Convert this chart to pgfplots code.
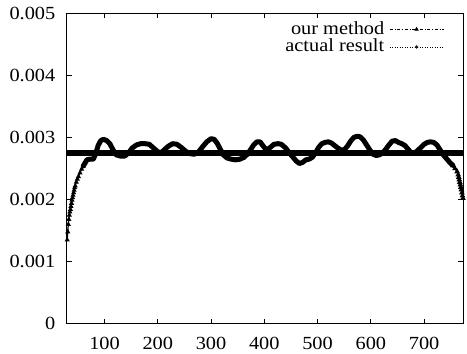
\documentclass[border=0pt]{standalone}
\usepackage{fontspec}
\setmainfont{Liberation Serif}[FakeStretch=1.1]
\usepackage{pgfplots}
\pgfplotsset{compat=1.18}
\begin{document}
\fontsize{18.5}{20}\selectfont
\begin{tikzpicture}
\begin{axis}[
  scale only axis,
  width=396.3pt, height=310.4pt,
  xmin=29, xmax=773, ymin=0, ymax=0.005,
  scaled y ticks=false, scaled x ticks=false,
  axis line style={line width=0.9pt},
  every tick/.style={black, line width=0.8pt},
  major tick length=5pt,
  tick align=inside, tick pos=both,
  xtick={100,200,300,400,500,600,700},
  xticklabels={100,200,300,400,500,600,700},
  ytick={0,0.001,0.002,0.003,0.004,0.005},
  yticklabels={0,0.001,0.002,0.003,0.004,0.005},
  ticklabel style={font=\fontsize{18.5}{20}\selectfont},
  yticklabel style={xshift=-5pt},
  xticklabel style={yshift=-7pt},
  legend plot pos=right,
  legend cell align=right,
  legend style={draw=none, fill=none, at={(axis description cs:1,1)}, anchor=north east,
    xshift=-19pt, yshift=-7pt, inner sep=0pt, row sep=0pt, column sep=4pt,
    nodes={inner sep=1pt, font=\fontsize{18.5}{20}\selectfont}},
  legend image code/.code={
    \draw[mark repeat=2, mark phase=2, #1] plot coordinates {(0pt,0pt) (27pt,0pt) (54pt,0pt)};
  },
]
% actual result (dense marks -> thick line)
\addplot[black, line width=6.5pt, forget plot] coordinates {(29,0.00275) (773,0.00275)};
% our method, rising part with visible marks
\addplot[black, line width=1.2pt, mark=triangle*, mark size=1.8pt, forget plot] coordinates {
(30,0.00135) (31,0.00148) (32,0.0016) (33,0.00168) (34,0.00175) (35,0.0018) (36,0.00184)
(37,0.00189) (38,0.00194) (39,0.00199) (40,0.00203) (41,0.00207) (42,0.00211) (43,0.00215)
(44,0.00219) (45,0.00222) (47,0.00228) (49,0.00233) (51,0.00237) (54,0.00243) (57,0.00249)
(60,0.00254) (63,0.00258) (67,0.00263)
};
% our method, main part
\addplot[black, line width=5pt, line join=round, line cap=round, forget plot] coordinates {
(60,0.00254) (67,0.00264) (72,0.00265) (79,0.00265) (84,0.00275) (88,0.00287) (93,0.00295)
(98,0.00297) (104,0.00295) (110,0.0029) (116,0.0028) (122,0.00272) (130,0.0027) (138,0.0027)
(145,0.00275) (152,0.00283) (160,0.00288) (168,0.0029) (176,0.0029) (184,0.00289) (192,0.00283)
(200,0.00277) (206,0.00275) (212,0.0028) (220,0.00286) (228,0.0029) (236,0.00289) (244,0.00284)
(252,0.00278) (260,0.00274) (268,0.00273) (276,0.00276) (284,0.00285) (292,0.00293) (300,0.00298)
(306,0.00297) (312,0.0029) (318,0.0028) (323,0.00272) (330,0.00267) (338,0.00265) (346,0.00264)
(354,0.00265) (362,0.00268) (368,0.00273) (374,0.0028) (380,0.00288) (386,0.00293) (392,0.00293)
(398,0.00286) (404,0.0028) (410,0.00283) (418,0.00289) (426,0.0029) (432,0.00289) (440,0.00283)
(448,0.00274) (454,0.00268) (460,0.00262) (466,0.00258) (472,0.0026) (478,0.00264) (484,0.00265)
(490,0.00268) (496,0.00275) (502,0.00284) (508,0.0029) (514,0.00292) (520,0.00293) (526,0.00291)
(532,0.00287) (538,0.00283) (544,0.0028) (550,0.0028) (556,0.00286) (562,0.00294) (568,0.003)
(574,0.00302) (580,0.00301) (586,0.00296) (592,0.00288) (598,0.0028) (604,0.00273) (610,0.00271)
(616,0.00272) (622,0.00275) (628,0.00281) (634,0.00288) (640,0.00294) (646,0.00295) (652,0.00292)
(658,0.0029) (664,0.00287) (670,0.00281) (676,0.00275) (682,0.00275) (688,0.00279) (694,0.00284)
(700,0.00289) (706,0.00292) (712,0.00293) (718,0.00292) (724,0.00288) (730,0.0028) (736,0.00272)
(742,0.00266) (748,0.0026) (754,0.00255)
};
\addplot[black, line width=1.5pt, mark=triangle*, mark size=1.8pt, forget plot] coordinates {
(754,0.00255) (758,0.0025) (762,0.00245) (764,0.0024) (765,0.00236) (766,0.00232) (767,0.00228)
(768,0.00224) (769,0.0022) (770,0.00216) (771,0.00211) (772,0.00206) (773,0.00202)
};
\addlegendimage{black, line width=0.5pt, dash dot, mark=triangle*, mark size=2pt, mark options={solid}}
\addlegendentry{our method}
\addlegendimage{black, line width=0.5pt, dotted, mark=asterisk, mark size=2pt, mark options={solid}}
\addlegendentry{actual result}
\coordinate (SW) at (rel axis cs:0,0);
\coordinate (NE) at (rel axis cs:1,1);
\end{axis}
\pgfresetboundingbox
\path ([shift={(-66.7pt,-29.3pt)}]SW) rectangle ([shift={(4pt,13.3pt)}]NE);
\end{tikzpicture}
\end{document}
